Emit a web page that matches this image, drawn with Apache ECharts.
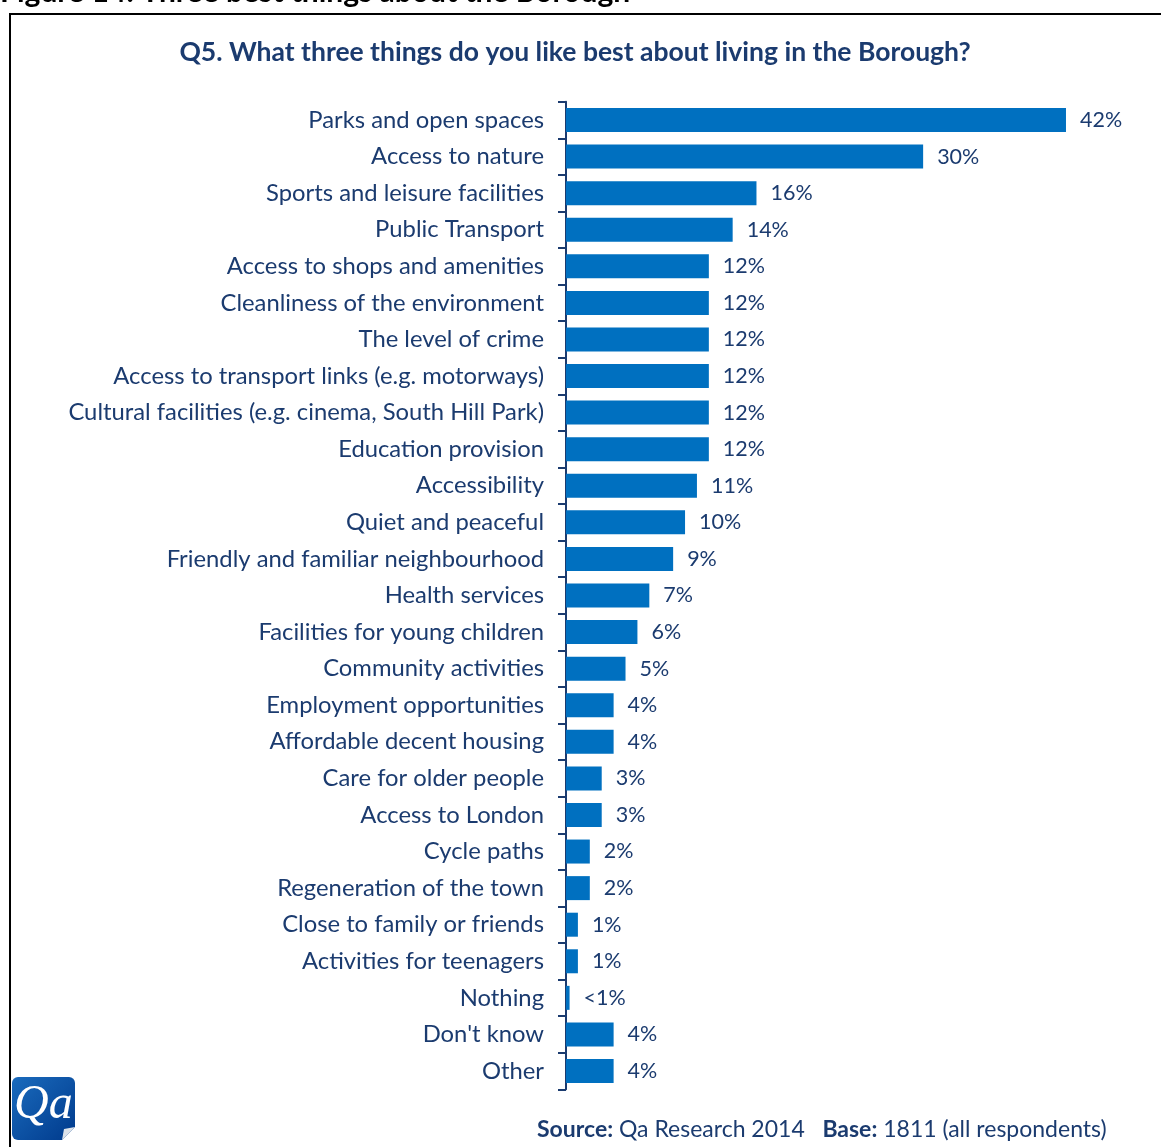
<!DOCTYPE html>
<html>
<head>
<meta charset="utf-8">
<script src="https://cdn.jsdelivr.net/npm/echarts@6/dist/echarts.min.js"></script>
<style>
  html, body { margin: 0; padding: 0; background: #fff; }
  #chart { width: 1161px; height: 1147px; }
</style>
</head>
<body>
<div id="chart"></div>
<script>
// Survey answers, in the order they are listed
const categories = [
  'Parks and open spaces',
  'Access to nature',
  'Sports and leisure facilities',
  'Public Transport',
  'Access to shops and amenities',
  'Cleanliness of the environment',
  'The level of crime',
  'Access to transport links (e.g. motorways)',
  'Cultural facilities (e.g. cinema, South Hill Park)',
  'Education provision',
  'Accessibility',
  'Quiet and peaceful',
  'Friendly and familiar neighbourhood',
  'Health services',
  'Facilities for young children',
  'Community activities',
  'Employment opportunities',
  'Affordable decent housing',
  'Care for older people',
  'Access to London',
  'Cycle paths',
  'Regeneration of the town',
  'Close to family or friends',
  'Activities for teenagers',
  'Nothing',
  "Don't know",
  'Other'
];

// Share of respondents (%)
const percentages = [42, 30, 16, 14, 12, 12, 12, 12, 12, 12, 11, 10, 9, 7, 6, 5, 4, 4, 3, 3, 2, 2, 1, 1, 0.3, 4, 4];

const NAVY = '#1b3b6f';
const BAR = '#0070c0';
const FONT = 'Lato, "Open Sans", sans-serif';

const chart = echarts.init(document.getElementById('chart'), null, { renderer: 'canvas' });

chart.setOption({
  backgroundColor: '#ffffff',
  animation: false,
  title: {
    text: 'Q5. What three things do you like best about living in the Borough?',
    left: 570,
    textAlign: 'center',
    top: 34,
    textStyle: { color: NAVY, fontFamily: FONT, fontSize: 26.5, fontWeight: 'bold' }
  },
  grid: { left: 566, right: 59.3, top: 101.7, height: 987.6, containLabel: false },
  xAxis: {
    type: 'value',
    min: 0,
    max: 45,
    show: false
  },
  yAxis: {
    type: 'category',
    data: categories,
    inverse: true,
    axisLine: { show: true, lineStyle: { color: NAVY, width: 2 } },
    axisTick: { show: true, length: 8, lineStyle: { color: NAVY, width: 2 } },
    axisLabel: { color: NAVY, fontFamily: FONT, fontSize: 23.8, margin: 22 }
  },
  series: [{
    type: 'bar',
    data: percentages,
    barWidth: 24,
    itemStyle: { color: BAR },
    label: {
      show: true,
      position: 'right',
      distance: 14,
      color: NAVY,
      fontFamily: FONT,
      fontSize: 21.5,
      formatter: p => (p.value < 1 ? '<1%' : p.value + '%')
    }
  }],
  graphic: [
    // page heading above the framed figure
    {
      type: 'text', left: 0, top: -23,
      style: { text: 'Figure 14: Three best things about the Borough', fill: '#000', font: 'bold 30px ' + FONT }
    },
    // frame around the figure
    {
      type: 'rect', shape: { x: 10, y: 14, width: 1200, height: 1200 },
      style: { fill: 'none', stroke: '#000', lineWidth: 2 }, silent: true
    },
    // Qa logo
    {
      type: 'group', left: 12, top: 1077,
      children: [
        {
          type: 'rect', shape: { x: 0, y: 0, width: 63, height: 63, r: [6, 6, 0, 6] },
          style: {
            fill: new echarts.graphic.LinearGradient(0, 0, 1, 1, [
              { offset: 0, color: '#1a6bbd' },
              { offset: 1, color: '#003a8c' }
            ])
          }
        },
        {
          type: 'polygon', shape: { points: [[63, 50], [63, 63], [50, 63]] },
          style: { fill: '#ffffff' }
        },
        {
          type: 'polygon', shape: { points: [[50, 63], [52, 52], [63, 50]] },
          style: { fill: '#dde3ea' }
        },
        {
          type: 'text', x: 2, y: 4,
          style: { text: 'Qa', fill: '#ffffff', font: 'italic 48px "Liberation Serif", "DejaVu Serif", serif' }
        }
      ]
    },
    // source line
    {
      type: 'text', left: 537, top: 1118,
      style: {
        rich: {
          b: { font: 'bold 23px ' + FONT, fill: NAVY },
          n: { font: '23px ' + FONT, fill: NAVY }
        },
        text: '{b|Source:}{n| Qa Research 2014   }{b|Base:}{n| 1811 (all respondents)}'
      }
    }
  ]
});
</script>
</body>
</html>
